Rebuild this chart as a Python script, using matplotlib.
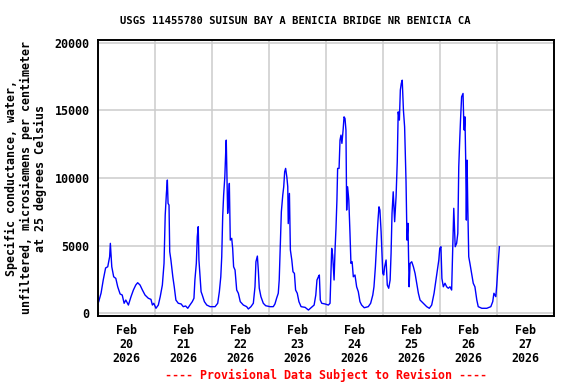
import pandas as pd
import matplotlib
matplotlib.use("Agg")
import matplotlib.pyplot as plt
import matplotlib.dates as mdates

# Specific conductance, hours since 2026-02-20 00:00
hours = [
    0.3, 1.3, 2.2, 3.2, 4.1, 4.9, 5.2, 5.8, 6.6, 7.5, 8.3, 9.3, 10.2, 11.0,
    11.7, 12.8, 13.9, 14.9, 15.9, 16.7, 17.7, 18.7, 19.8, 21.2, 22.3, 22.9,
    23.5, 24.4, 25.4, 26.2, 27.1, 27.8, 28.3, 28.8, 29.2, 29.5, 29.9, 30.2,
    30.7, 31.5, 32.1, 32.8, 33.8, 35.0, 35.9, 36.9, 37.8, 38.7, 39.7, 40.4,
    40.8, 41.4, 41.8, 42.2, 42.5, 43.0, 43.4, 43.9, 44.8, 45.8, 47.2, 49.3,
    50.4, 51.1, 51.7, 52.1, 52.5, 52.9, 53.4, 53.8, 54.0, 54.3, 54.6, 55.0,
    55.3, 55.7, 56.3, 56.7, 57.1, 57.7, 58.4, 59.1, 59.9, 61.2, 62.6, 63.3,
    64.4, 65.4, 66.1, 66.5, 67.1, 67.5, 67.9, 68.6, 69.6, 70.6, 72.4, 73.8,
    74.5, 75.2, 75.9, 76.3, 76.8, 77.2, 77.8, 78.2, 78.6, 79.0, 79.5, 79.9,
    80.1, 80.6, 81.0, 81.6, 82.1, 82.7, 83.2, 83.9, 84.6, 85.5, 87.2, 88.6,
    89.7, 91.0, 91.7, 92.2, 92.8, 93.2, 93.6, 94.2, 95.6, 97.0, 97.7, 98.4,
    98.8, 99.4, 99.8, 100.2, 100.6, 100.9, 101.5, 101.9, 102.3, 102.7, 103.2,
    103.6, 104.0, 104.4, 104.7, 105.1, 105.6, 106.1, 106.5, 107.0, 107.5,
    108.2, 108.9, 109.6, 110.3, 111.0, 112.1, 113.8, 114.8, 115.7, 116.2,
    116.8, 117.4, 117.9, 118.3, 118.7, 119.2, 119.5, 119.9, 120.3, 120.7,
    121.3, 121.8, 122.4, 123.0, 123.4, 123.8, 124.3, 124.9, 125.5, 126.0,
    126.4, 126.9, 127.3, 127.7, 128.1, 128.6, 129.1, 129.7, 130.1, 130.5,
    131.0, 131.4, 132.1, 132.8, 133.5, 134.2, 134.9, 135.6, 137.0, 138.4,
    139.5, 140.5, 141.5, 142.3, 142.9, 143.5, 143.9, 144.4, 144.8, 145.4,
    146.1, 146.8, 147.5, 148.2, 148.9, 149.4, 149.8, 150.0, 150.4, 151.0,
    151.5, 151.9, 152.3, 152.7, 153.1, 153.7, 154.0, 154.2, 154.5, 154.8,
    155.1, 155.4, 155.7, 156.1, 156.6, 157.4, 158.0, 158.7, 159.5, 160.1,
    161.6, 163.7, 165.4, 166.2, 166.7, 167.5, 167.9, 168.4, 169.0,
]
conductance = [
    860, 1500, 2460, 3350, 3440, 4180, 5170, 3440, 2700, 2580, 1960, 1430,
    1350, 740, 980, 610, 1230, 1720, 2090, 2260, 2090, 1720, 1350, 1110,
    1030, 610, 740, 370, 610, 1230, 2090, 3690, 7260, 8860, 9850, 8120,
    8000, 4550, 3940, 2700, 1960, 980, 740, 690, 490, 540, 370, 610, 860,
    1110, 2460, 3690, 5660, 6400, 3940, 2700, 1600, 1350, 860, 610, 490,
    490, 740, 1600, 2700, 4180, 7140, 8740, 10090, 12060, 12800, 10090,
    7390, 8490, 9600, 5410, 5540, 4800, 3440, 3200, 1720, 1480, 860, 610,
    490, 320, 490, 740, 1960, 3810, 4230, 3200, 1850, 1230, 740, 560, 490,
    490, 690, 1110, 1480, 2460, 5170, 7500, 8740, 9350, 10460, 10710,
    10090, 9350, 6630, 8860, 4680, 3940, 3070, 2950, 1720, 1480, 860, 490,
    440, 240, 410, 610, 1350, 2460, 2700, 2830, 980, 740, 690, 610, 740,
    4800, 4300, 2460, 4680, 6280, 8370, 10710, 10710, 12800, 13170, 12560,
    13540, 14520, 14400, 13540, 7630, 9350, 8370, 5910, 3690, 3810, 2700,
    2830, 1960, 1600, 860, 610, 410, 490, 740, 1350, 1960, 3440, 5410,
    6890, 7870, 7630, 6030, 4680, 2950, 2830, 3440, 3940, 2090, 1850, 2460,
    4430, 7390, 8980, 6770, 8610, 11200, 14890, 14280, 16500, 16990, 17230,
    15010, 13780, 9720, 5410, 6650, 1960, 3690, 3810, 3440, 2950, 2220,
    1480, 980, 740, 490, 370, 610, 1480, 2460, 3200, 3940, 4800, 4920,
    2580, 1960, 2220, 1960, 1850, 1960, 1720, 4920, 7760, 6770, 4920, 5170,
    5910, 10830, 12800, 14520, 16000, 16250, 14150, 13540, 14520, 11570,
    6890, 11320, 7870, 4180, 3690, 2830, 2220, 1960, 980, 490, 370, 370,
    490, 860, 1480, 1230, 2090, 3440, 4920,
]

start = pd.Timestamp("2026-02-20")
times = start + pd.to_timedelta(hours, unit="h")

font = "DejaVu Sans Mono"
plt.rcParams["font.family"] = font
plt.rcParams["font.weight"] = "bold"
plt.rcParams["font.size"] = 8.4

fig = plt.figure(figsize=(5.76, 3.84), dpi=100)
ax = fig.add_axes([98 / 576, 1 - 316 / 384, 456 / 576, 276 / 384])

ax.plot(times, conductance, color="#0000ff", linewidth=1.0)

ax.set_xlim(start, start + pd.Timedelta(days=8))
ax.set_ylim(-200, 20200)

# gridlines at midnight, labels at noon
ax.xaxis.set_minor_locator(mdates.DayLocator())
ax.xaxis.set_major_locator(mdates.HourLocator(byhour=12))
ax.xaxis.set_major_formatter(mdates.DateFormatter("%b\n%d\n%Y"))
ax.set_yticks([0, 5000, 10000, 15000, 20000])
ax.grid(True, which="minor", axis="x", color="#cccccc", linewidth=1.1)
ax.grid(True, which="major", axis="y", color="#cccccc", linewidth=1.1)
ax.tick_params(which="both", length=0)
ax.tick_params(axis="y", pad=6)
ax.tick_params(axis="x", pad=6)
for lbl in ax.get_xticklabels():
    lbl.set_linespacing(1.1)
for s in ax.spines.values():
    s.set_linewidth(1.4)
    s.set_color("black")

fig.text(295 / 576, 1 - 21 / 384,
         "USGS 11455780 SUISUN BAY A BENICIA BRIDGE NR BENICIA CA",
         ha="center", va="center", fontsize=7.6)
fig.text(26 / 576, 1 - 178 / 384,
         "Specific conductance, water,\n"
         "unfiltered, microsiemens per centimeter\n"
         "at 25 degrees Celsius",
         rotation=90, ha="center", va="center", multialignment="center",
         linespacing=1.1)
fig.text(326 / 576, 1 - 375 / 384,
         "---- Provisional Data Subject to Revision ----",
         ha="center", va="center", color="#ff0000")

fig.savefig("out.png", dpi=100)
